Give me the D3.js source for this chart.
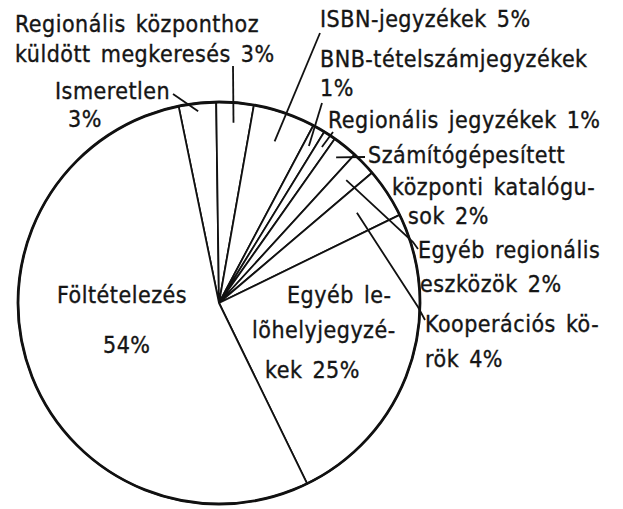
<!DOCTYPE html>
<html>
<head>
<meta charset="utf-8">
<script src="https://cdn.jsdelivr.net/npm/d3@7"></script>
<style>
    body { margin: 0; background: #fff; }
    svg text {
        font-family: "DejaVu Sans Condensed", "DejaVu Sans", sans-serif;
        font-size: 23px;
        letter-spacing: 0.5px;
        word-spacing: 3px;
        fill: #151515;
        stroke: #151515;
        stroke-width: 0.35px;
    }
</style>
</head>
<body>
<svg id="chart" width="623" height="509"></svg>
<script>
// slices, clockwise from the top-left edge of "Ismeretlen"
const categories = [
    'Ismeretlen',
    'Regionális központhoz küldött megkeresés',
    'ISBN-jegyzékek',
    'BNB-tételszámjegyzékek',
    'Regionális jegyzékek',
    'Számítógépesített központi katalógusok',
    'Egyéb regionális eszközök',
    'Kooperációs körök',
    'Egyéb lelőhelyjegyzékek',
    'Föltételezés',
];
const shares = [3, 3, 5, 1, 1, 2, 2, 4, 25, 54];
const label_lines = [
    ['Ismeretlen', '3%'],
    ['Regionális központhoz', 'küldött megkeresés 3%'],
    ['ISBN-jegyzékek 5%'],
    ['BNB-tételszámjegyzékek', '1%'],
    ['Regionális jegyzékek 1%'],
    ['Számítógépesített', 'központi katalógu-', 'sok 2%'],
    ['Egyéb regionális', 'eszközök 2%'],
    ['Kooperációs kö-', 'rök 4%'],
    ['Egyéb le-', 'lõhelyjegyzé-', 'kek 25%'],
    ['Föltételezés', '54%'],
];

// layout only: where each label sits and where its leader ends
const label_x = [
    [55, 68], [15, 15], [320], [320, 320], [328],
    [368, 392, 408], [418, 420], [425, 425], [287, 252, 265], [57, 103],
];
const label_y = [
    [99, 127], [32, 62], [27], [67, 96], [128],
    [163, 195, 224], [258, 292], [332, 367], [303, 338, 378], [303, 353],
];
const leader_out = [
    [[173, 94]], [[233, 66]], [[320, 33]], [[322, 103]], [[333, 132]],
    [[365, 157]], [[413, 242], [418, 249]], [[418, 307], [425, 320]], null, null,
];
const leader_in = [0.96, 0.9, 0.85, 0.9, 0.93, 0.93, 0.88, 0.82, null, null];

const cx = 219;
const cy = 303;
const radius = 201;
const start_deg = -11.6;


function draw_pie() {
    const svg = d3.select('#chart');
    const g = svg.append('g').attr('transform', `translate(${cx}, ${cy})`);

    const pie = d3.pie()
        .sort(null)
        .value(d => d)
        .startAngle(start_deg * Math.PI / 180)
        .endAngle(start_deg * Math.PI / 180 + 2 * Math.PI);
    const arcs = pie(shares);
    const arc = d3.arc().innerRadius(0).outerRadius(radius);

    g.selectAll('path.slice')
        .data(arcs)
        .join('path')
        .attr('class', 'slice')
        .attr('d', arc)
        .attr('fill', '#fff')
        .attr('stroke', '#111')
        .attr('stroke-width', 1.8)
        .attr('stroke-linejoin', 'round');

    // heavier rim, as in the drawing
    g.append('circle')
        .attr('r', radius)
        .attr('fill', 'none')
        .attr('stroke', '#111')
        .attr('stroke-width', 2.8);

    // leaders: from a point inside the slice out to its label
    arcs.forEach((d, i) => {
        if (!leader_out[i]) return;
        const mid = (d.startAngle + d.endAngle) / 2;
        const r = radius * leader_in[i];
        const p0 = [cx + r * Math.sin(mid), cy - r * Math.cos(mid)];
        svg.append('path')
            .attr('d', d3.line()([p0].concat(leader_out[i])))
            .attr('fill', 'none')
            .attr('stroke', '#111')
            .attr('stroke-width', 1.8);
    });

    label_lines.forEach((lines, i) => {
        svg.selectAll(null)
            .data(lines)
            .join('text')
            .attr('x', (t, j) => label_x[i][j])
            .attr('y', (t, j) => label_y[i][j])
            .text(t => t);
    });
}


draw_pie();
</script>
</body>
</html>
